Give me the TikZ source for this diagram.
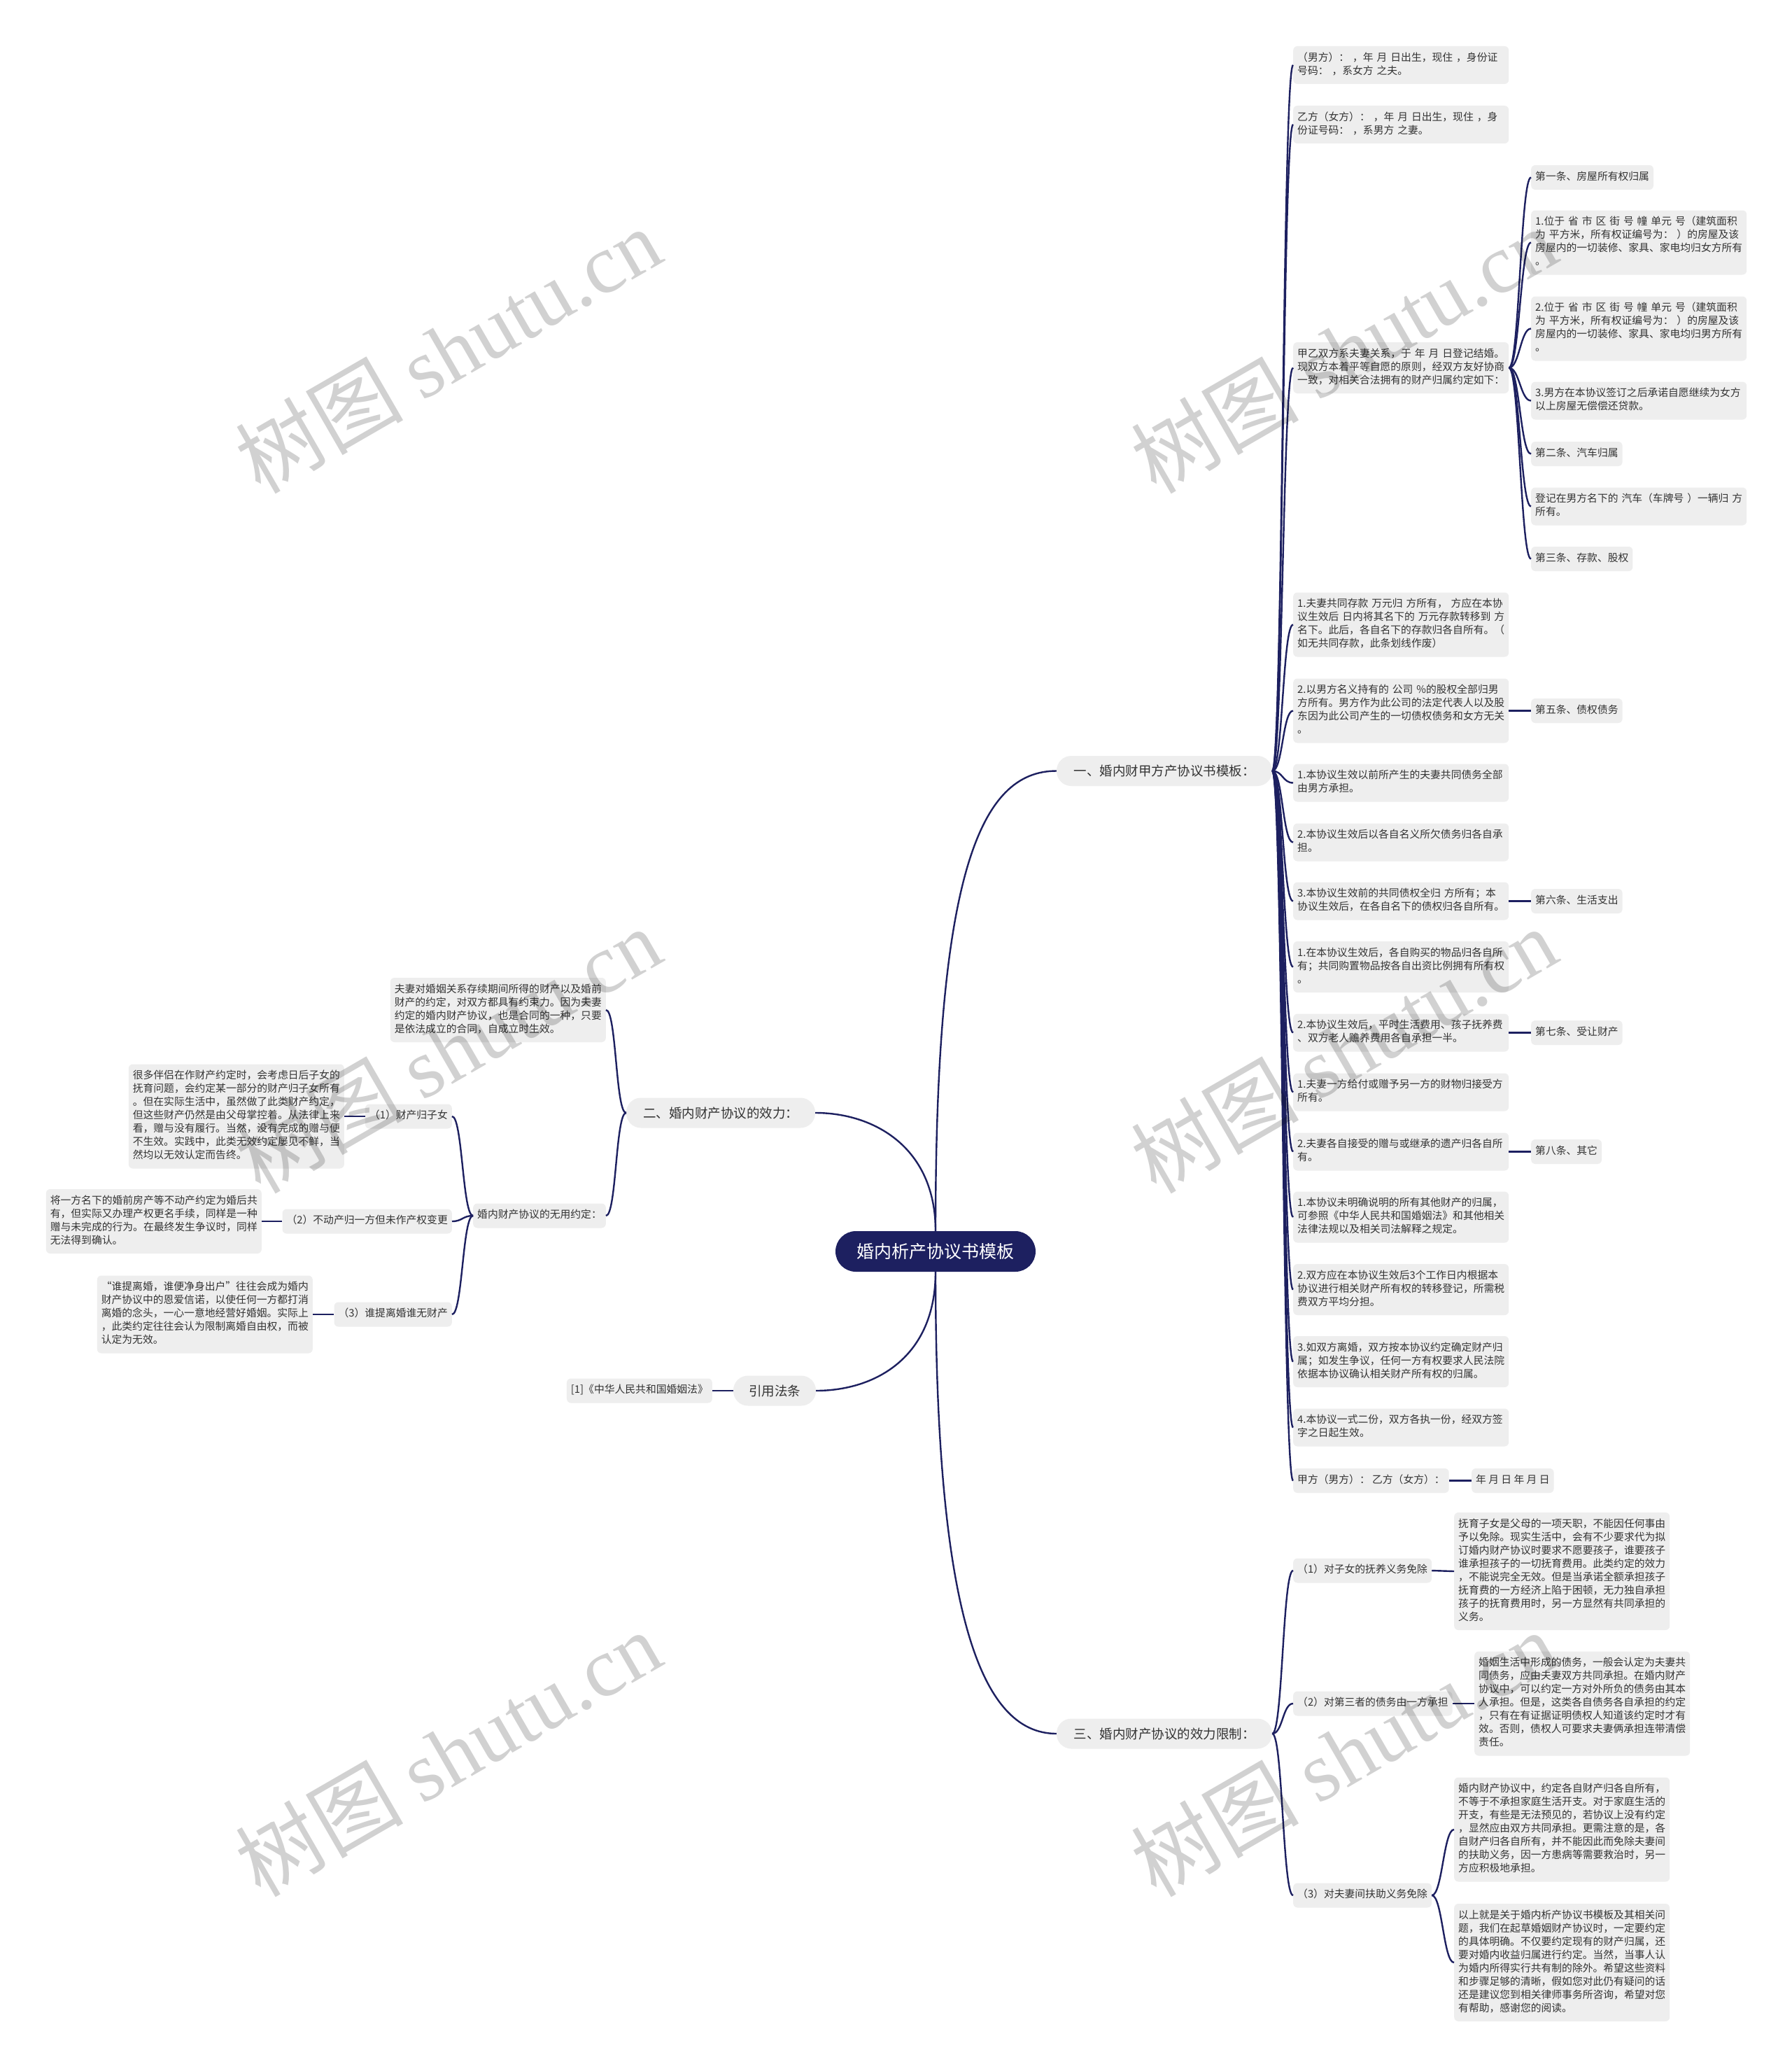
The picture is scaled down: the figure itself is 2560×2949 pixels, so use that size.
\documentclass[tikz,border=0pt]{standalone}
\usepackage{fontspec}
\setmainfont{Noto Sans CJK SC}
\newfontfamily\wmlatin{Liberation Serif}
\definecolor{navy}{HTML}{1D2060}
\definecolor{boxgray}{HTML}{EEEEEE}
\definecolor{txt}{HTML}{333333}
\newcommand\lnkR[2]{\draw[conn] (#1.east) .. controls +(15,0) and +(-15,0) .. (#2.west);}
\newcommand\lnkL[2]{\draw[conn] (#1.west) .. controls +(-15,0) and +(15,0) .. (#2.east);}
\begin{document}
\begin{tikzpicture}[x=1pt,y=-1pt,
  conn/.style={draw=navy,line width=2.4pt},
  leaf/.style={fill=boxgray,rounded corners=6pt,inner xsep=6pt,inner ysep=8pt,
    font=\fontsize{14.8}{19}\selectfont,text=txt,align=left,
    execute at begin node=\strut,execute at end node=\strut},
  wide/.style={leaf,text width=296pt},
  branch/.style={fill=boxgray,rounded corners=21pt,font=\fontsize{18.5}{22}\selectfont,
    text=txt,minimum height=43pt,inner xsep=0pt},
  rootbox/.style={fill=navy,rounded corners=29pt,font=\fontsize{25}{30}\selectfont,
    text=white,minimum height=58pt,minimum width=286pt},
  wm/.style={rotate=30,text=black,opacity=0.18,font=\fontsize{120}{130}\selectfont}
]
\useasboundingbox[fill=white] (0,0) rectangle (2560,2949);

% root and branches
\node[rootbox] (root) at (1337,1788) {婚内析产协议书模板};
\node[branch,minimum width=308pt] (b1) at (1664,1101.5) {一、婚内财甲方产协议书模板：};
\node[branch,minimum width=270pt] (b2) at (1030,1590) {二、婚内财产协议的效力：};
\node[branch,minimum width=118pt] (b3) at (1107,1987) {引用法条};
\node[branch,minimum width=308pt] (b4) at (1664,2477) {三、婚内财产协议的效力限制：};

\draw[conn] (root.north) .. controls (1337,1250) and (1400,1101.5) .. (b1.west);
\draw[conn] (root.north) .. controls (1337,1640) and (1250,1590) .. (b2.east);
\draw[conn] (root.south) .. controls (1337,1940) and (1250,1987) .. (b3.east);
\draw[conn] (root.south) .. controls (1337,2300) and (1400,2477) .. (b4.west);

\begin{scope}[yshift=-3.5pt]
% branch 1 children
\node[wide,anchor=west] (n1) at (1848,89.5) {（男方）：~，年~月~日出生，现住~，身份证\\号码：~，系女方~之夫。};
\node[wide,anchor=west] (n2) at (1848,174.5) {乙方（女方）：~，年~月~日出生，现住~，身\\份证号码：~，系男方~之妻。};
\node[wide,anchor=west] (n3) at (1848,522) {甲乙双方系夫妻关系，于~年~月~日登记结婚。\\现双方本着平等自愿的原则，经双方友好协商\\一致，对相关合法拥有的财产归属约定如下：};
\node[wide,anchor=west] (n4) at (1848,889) {1.夫妻共同存款~万元归~方所有，~方应在本协\\议生效后~日内将其名下的~万元存款转移到~方\\名下。此后，各自名下的存款归各自所有。（\\如无共同存款，此条划线作废）};
\node[wide,anchor=west] (n5) at (1848,1012) {2.以男方名义持有的~公司~\%的股权全部归男\\方所有。男方作为此公司的法定代表人以及股\\东因为此公司产生的一切债权债务和女方无关\\。};
\node[wide,anchor=west] (n6) at (1848,1115) {1.本协议生效以前所产生的夫妻共同债务全部\\由男方承担。};
\node[wide,anchor=west] (n7) at (1848,1200) {2.本协议生效后以各自名义所欠债务归各自承\\担。};
\node[wide,anchor=west] (n8) at (1848,1284) {3.本协议生效前的共同债权全归~方所有；本\\协议生效后，在各自名下的债权归各自所有。};
\node[wide,anchor=west] (n9) at (1848,1378) {1.在本协议生效后，各自购买的物品归各自所\\有；共同购置物品按各自出资比例拥有所有权\\。};
\node[wide,anchor=west] (n10) at (1848,1472) {2.本协议生效后，平时生活费用、孩子抚养费\\、双方老人赡养费用各自承担一半。};
\node[wide,anchor=west] (n11) at (1848,1557) {1.夫妻一方给付或赠予另一方的财物归接受方\\所有。};
\node[wide,anchor=west] (n12) at (1848,1642) {2.夫妻各自接受的赠与或继承的遗产归各自所\\有。};
\node[wide,anchor=west] (n13) at (1848,1735.5) {1.本协议未明确说明的所有其他财产的归属，\\可参照《中华人民共和国婚姻法》和其他相关\\法律法规以及相关司法解释之规定。};
\node[wide,anchor=west] (n14) at (1848,1839) {2.双方应在本协议生效后3个工作日内根据本\\协议进行相关财产所有权的转移登记，所需税\\费双方平均分担。};
\node[wide,anchor=west] (n15) at (1848,1942) {3.如双方离婚，双方按本协议约定确定财产归\\属；如发生争议，任何一方有权要求人民法院\\依据本协议确认相关财产所有权的归属。};
\node[wide,anchor=west] (n16) at (1848,2036) {4.本协议一式二份，双方各执一份，经双方签\\字之日起生效。};
\node[leaf,anchor=west] (n17) at (1848,2112) {甲方（男方）：~乙方（女方）：};
\node[leaf,anchor=west] (d17) at (2103,2112) {年~月~日~年~月~日};

% sub-items of n3
\node[leaf,anchor=west] (s1) at (2188,250) {第一条、房屋所有权归属};
\node[wide,anchor=west] (s2) at (2188,343) {1.位于~省~市~区~街~号~幢~单元~号（建筑面积\\为~平方米，所有权证编号为：~）的房屋及该\\房屋内的一切装修、家具、家电均归女方所有\\。};
\node[wide,anchor=west] (s3) at (2188,466) {2.位于~省~市~区~街~号~幢~单元~号（建筑面积\\为~平方米，所有权证编号为：~）的房屋及该\\房屋内的一切装修、家具、家电均归男方所有\\。};
\node[wide,anchor=west] (s4) at (2188,569) {3.男方在本协议签订之后承诺自愿继续为女方\\以上房屋无偿偿还贷款。};
\node[leaf,anchor=west] (s5) at (2188,645) {第二条、汽车归属};
\node[wide,anchor=west] (s6) at (2188,720) {登记在男方名下的~汽车（车牌号~）一辆归~方\\所有。};
\node[leaf,anchor=west] (s7) at (2188,795) {第三条、存款、股权};

\node[leaf,anchor=west] (f5) at (2188,1012) {第五条、债权债务};
\node[leaf,anchor=west] (f6) at (2188,1284) {第六条、生活支出};
\node[leaf,anchor=west] (f7) at (2188,1472) {第七条、受让财产};
\node[leaf,anchor=west] (f8) at (2188,1642) {第八条、其它};
\end{scope}

\foreach \c in {n1,n2,n3,n4,n5,n6,n7,n8,n9,n10,n11,n12,n13,n14,n15,n16,n17}{\lnkR{b1}{\c}}
\foreach \c in {s1,s2,s3,s4,s5,s6,s7}{\lnkR{n3}{\c}}
\draw[conn] (n5.east) -- (f5.west);
\draw[conn] (n8.east) -- (f6.west);
\draw[conn] (n10.east) -- (f7.west);
\draw[conn] (n12.east) -- (f8.west);
\draw[conn] (n17.east) -- (d17.west);

% branch 4 children
\node[leaf,anchor=west] (m1) at (1848,2244) {（1）对子女的抚养义务免除};
\node[wide,anchor=west] (m1c) at (2078,2245) {抚育子女是父母的一项天职，不能因任何事由\\予以免除。现实生活中，会有不少要求代为拟\\订婚内财产协议时要求不愿要孩子，谁要孩子\\谁承担孩子的一切抚育费用。此类约定的效力\\，不能说完全无效。但是当承诺全额承担孩子\\抚育费的一方经济上陷于困顿，无力独自承担\\孩子的抚育费用时，另一方显然有共同承担的\\义务。};
\node[leaf,anchor=west] (m2) at (1848,2434) {（2）对第三者的债务由一方承担};
\node[wide,anchor=west] (m2c) at (2107,2434) {婚姻生活中形成的债务，一般会认定为夫妻共\\同债务，应由夫妻双方共同承担。在婚内财产\\协议中，可以约定一方对外所负的债务由其本\\人承担。但是，这类各自债务各自承担的约定\\，只有在有证据证明债权人知道该约定时才有\\效。否则，债权人可要求夫妻俩承担连带清偿\\责任。};
\node[leaf,anchor=west] (m3) at (1848,2708) {（3）对夫妻间扶助义务免除};
\node[wide,anchor=west] (c1) at (2078,2614) {婚内财产协议中，约定各自财产归各自所有，\\不等于不承担家庭生活开支。对于家庭生活的\\开支，有些是无法预见的，若协议上没有约定\\，显然应由双方共同承担。更需注意的是，各\\自财产归各自所有，并不能因此而免除夫妻间\\的扶助义务，因一方患病等需要救治时，另一\\方应积极地承担。};
\node[wide,anchor=west] (c2) at (2078,2804) {以上就是关于婚内析产协议书模板及其相关问\\题，我们在起草婚姻财产协议时，一定要约定\\的具体明确。不仅要约定现有的财产归属，还\\要对婚内收益归属进行约定。当然，当事人认\\为婚内所得实行共有制的除外。希望这些资料\\和步骤足够的清晰，假如您对此仍有疑问的话\\还是建议您到相关律师事务所咨询，希望对您\\有帮助，感谢您的阅读。};
\foreach \c in {m1,m2,m3}{\lnkR{b4}{\c}}
\draw[conn] (m1.east) -- (m1c.west);
\draw[conn] (m2.east) -- (m2c.west);
\lnkR{m3}{c1}
\lnkR{m3}{c2}

% branch 2 children
\node[wide,anchor=east] (e1) at (866,1443) {夫妻对婚姻关系存续期间所得的财产以及婚前\\财产的约定，对双方都具有约束力。因为夫妻\\约定的婚内财产协议，也是合同的一种，只要\\是依法成立的合同，自成立时生效。};
\node[leaf,anchor=east] (e2) at (866,1737) {婚内财产协议的无用约定：};
\lnkL{b2}{e1}
\lnkL{b2}{e2}
\node[leaf,anchor=east] (k1) at (646,1595) {（1）财产归子女};
\node[wide,anchor=east] (k1c) at (492,1595) {很多伴侣在作财产约定时，会考虑日后子女的\\抚育问题，会约定某一部分的财产归子女所有\\。但在实际生活中，虽然做了此类财产约定，\\但这些财产仍然是由父母掌控着。从法律上来\\看，赠与没有履行。当然，没有完成的赠与便\\不生效。实践中，此类无效约定屡见不鲜，当\\然均以无效认定而告终。};
\node[leaf,anchor=east] (k2) at (646,1745) {（2）不动产归一方但未作产权变更};
\node[wide,anchor=east] (k2c) at (374,1745) {将一方名下的婚前房产等不动产约定为婚后共\\有，但实际又办理产权更名手续，同样是一种\\赠与未完成的行为。在最终发生争议时，同样\\无法得到确认。};
\node[leaf,anchor=east] (k3) at (646,1878) {（3）谁提离婚谁无财产};
\node[wide,anchor=east] (k3c) at (447,1878) {“谁提离婚，谁便净身出户”往往会成为婚内\\财产协议中的恩爱信诺，以使任何一方都打消\\离婚的念头，一心一意地经营好婚姻。实际上\\，此类约定往往会认为限制离婚自由权，而被\\认定为无效。};
\foreach \c in {k1,k2,k3}{\lnkL{e2}{\c}}
\draw[conn] (k1.west) -- (k1c.east);
\draw[conn] (k2.west) -- (k2c.east);
\draw[conn] (k3.west) -- (k3c.east);

% branch 3 child
\node[leaf,anchor=east] (r1) at (1018,1987) {[1]《中华人民共和国婚姻法》};
\draw[conn] (b3.west) -- (r1.east);

% watermarks
\foreach \p in {(640,500),(1920,500),(640,1500),(1920,1500),(640,2505),(1920,2505)}{
  \node[wm] at \p {树图~{\wmlatin shutu.cn}};
}
\end{tikzpicture}
\end{document}
